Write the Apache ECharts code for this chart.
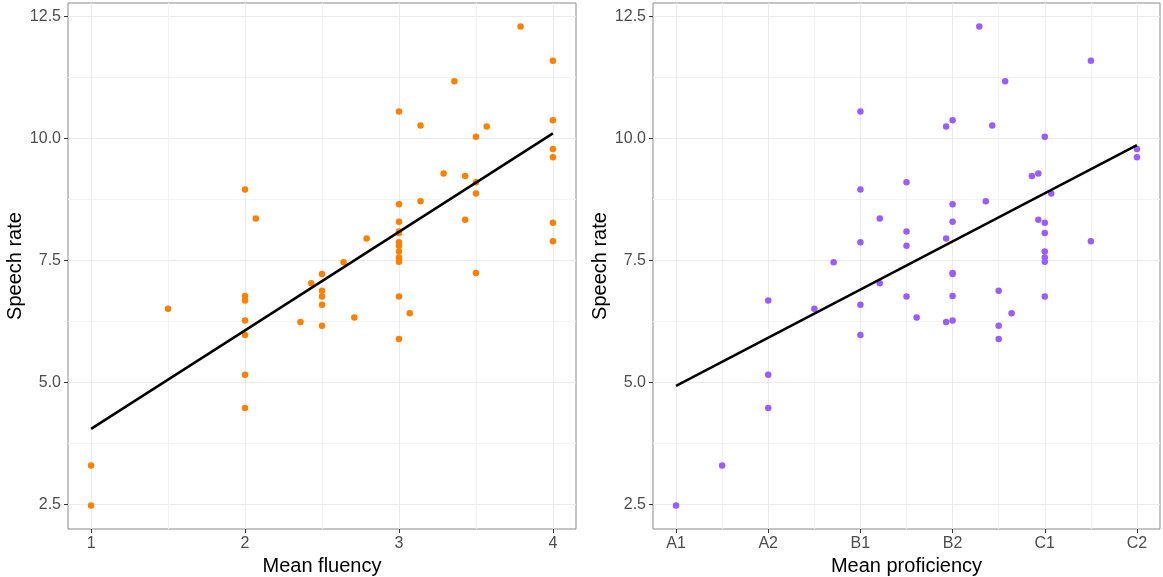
<!DOCTYPE html>
<html><head><meta charset="utf-8">
<script src="https://cdn.jsdelivr.net/npm/echarts@6/dist/echarts.min.js"></script>
<style>html,body{margin:0;padding:0;background:#fff}#c{width:1163px;height:577px}</style>
</head><body><div id="c"></div>
<script>
// ---- data ----
const speechRate = [12.29, 11.59, 11.17, 10.55, 10.37, 10.26, 10.24, 10.03, 9.78, 9.61,
  9.28, 9.23, 9.10, 8.95, 8.87, 8.71, 8.65, 8.36, 8.33, 8.29,
  8.27, 8.09, 8.06, 7.95, 7.89, 7.87, 7.80, 7.68, 7.56, 7.47,
  7.46, 7.24, 7.22, 7.03, 6.88, 6.77, 6.76, 6.76, 6.68, 6.59,
  6.51, 6.42, 6.33, 6.27, 6.24, 6.16, 5.97, 5.89, 5.16, 4.48,
  3.30, 2.48];
const meanFluency = [3.79, 4, 3.36, 3, 4, 3.14, 3.57, 3.5, 4, 4,
  3.29, 3.43, 3.5, 2, 3.5, 3.14, 3, 2.07, 3.43, 3,
  4, 3, 3, 2.79, 4, 3, 3, 3, 3, 3,
  2.64, 3.5, 2.5, 2.43, 2.5, 2, 2.5, 3, 2, 2.5,
  1.5, 3.07, 2.71, 2, 2.36, 2.5, 2, 3, 2, 2,
  1, 1];
const meanProficiency = [4.29, 5.5, 4.57, 3, 4, 4.43, 3.93, 5, 6, 6,
  4.93, 4.86, 3.5, 3, 5.07, 4.36, 4, 3.21, 4.93, 4,
  5, 3.5, 5, 3.93, 5.5, 3, 3.5, 5, 5, 5,
  2.71, 4, 4, 3.21, 4.5, 4, 3.5, 5, 2, 3,
  2.5, 4.64, 3.61, 4, 3.93, 4.5, 3, 4.5, 2, 2,
  1.5, 1];
const fitFluencyX = [1, 4];
const fitFluencyY = [4.05, 10.10];
const fitProficiencyX = [1, 6];
const fitProficiencyY = [4.93, 9.86];

const fluencyTicks = [1, 2, 3, 4];
const fluencyMinor = [1.5, 2.5, 3.5];
const proficiencyTicks = [1, 2, 3, 4, 5, 6];
const proficiencyLabels = ['A1', 'A2', 'B1', 'B2', 'C1', 'C2'];
const proficiencyMinor = [1.5, 2.5, 3.5, 4.5, 5.5];
const rateTicks = [2.5, 5, 7.5, 10, 12.5];
const rateMinor = [3.75, 6.25, 8.75, 11.25];

// ---- styling ----
const FONT = "'Liberation Sans', Arial, sans-serif";
const MAJOR = '#ebebeb', MINOR = '#f3f3f3';
const yMin = 2.0, yMax = 12.77;

function mainX(grid, min, max, ticks, name, fmt) {
  return {
    type: 'value', gridIndex: grid, min: min, max: max, position: 'bottom',
    axisLine: { show: false },
    axisTick: { show: true, length: 4, customValues: ticks, lineStyle: { color: '#333333', width: 1 } },
    axisLabel: { customValues: ticks, color: '#4d4d4d', fontSize: 16, fontFamily: FONT, margin: 7, formatter: fmt },
    splitLine: { show: true, lineStyle: { color: MAJOR, width: 1 } },
    name: name, nameLocation: 'middle', nameGap: 26,
    nameTextStyle: { fontSize: 20, color: '#000', fontFamily: FONT }
  };
}
function minorX(grid, min, max, ticks) {
  return {
    type: 'value', gridIndex: grid, min: min, max: max, position: 'top',
    axisLine: { show: false }, axisLabel: { show: false },
    axisTick: { show: false, customValues: ticks },
    splitLine: { show: true, lineStyle: { color: MINOR, width: 1 } }
  };
}
function mainY(grid) {
  return {
    type: 'value', gridIndex: grid, min: yMin, max: yMax, position: 'left',
    axisLine: { show: false },
    axisTick: { show: true, length: 4, customValues: rateTicks, lineStyle: { color: '#333333', width: 1 } },
    axisLabel: { customValues: rateTicks, color: '#4d4d4d', fontSize: 16, fontFamily: FONT, margin: 7,
      formatter: v => v.toFixed(1) },
    splitLine: { show: true, lineStyle: { color: MAJOR, width: 1 } },
    name: 'Speech rate', nameLocation: 'middle', nameGap: 43, nameRotate: 90,
    nameTextStyle: { fontSize: 20, color: '#000', fontFamily: FONT }
  };
}
function minorY(grid) {
  return {
    type: 'value', gridIndex: grid, min: yMin, max: yMax, position: 'right',
    axisLine: { show: false }, axisLabel: { show: false },
    axisTick: { show: false, customValues: rateMinor },
    splitLine: { show: true, lineStyle: { color: MINOR, width: 1 } }
  };
}

const gridStyle = { show: true, borderColor: '#8a8a8a', borderWidth: 1, backgroundColor: '#ffffff',
  containLabel: false, outerBoundsMode: 'none' };

const option = {
  animation: false,
  backgroundColor: '#ffffff',
  grid: [
    Object.assign({ left: 68, right: 587, top: 3, bottom: 48 }, gridStyle),
    Object.assign({ left: 653, right: 3, top: 3, bottom: 48 }, gridStyle)
  ],
  xAxis: [
    mainX(0, 0.85, 4.15, fluencyTicks, 'Mean fluency', v => String(v)),
    minorX(0, 0.85, 4.15, fluencyMinor),
    mainX(1, 0.75, 6.25, proficiencyTicks, 'Mean proficiency', v => proficiencyLabels[proficiencyTicks.indexOf(v)]),
    minorX(1, 0.75, 6.25, proficiencyMinor)
  ],
  yAxis: [mainY(0), minorY(0), mainY(1), minorY(1)],
  series: [
    {
      type: 'scatter', xAxisIndex: 0, yAxisIndex: 0, symbolSize: 6.5, z: 3,
      itemStyle: { color: '#ff7f00', opacity: 1 },
      data: meanFluency.map((x, i) => [x, speechRate[i]])
    },
    {
      type: 'line', xAxisIndex: 0, yAxisIndex: 0, symbol: 'none', z: 4,
      lineStyle: { color: '#000', width: 2.5 },
      data: fitFluencyX.map((x, i) => [x, fitFluencyY[i]])
    },
    {
      type: 'scatter', xAxisIndex: 2, yAxisIndex: 2, symbolSize: 6.5, z: 3,
      itemStyle: { color: '#9b5cff', opacity: 1 },
      data: meanProficiency.map((x, i) => [x, speechRate[i]])
    },
    {
      type: 'line', xAxisIndex: 2, yAxisIndex: 2, symbol: 'none', z: 4,
      lineStyle: { color: '#000', width: 2.5 },
      data: fitProficiencyX.map((x, i) => [x, fitProficiencyY[i]])
    }
  ]
};
const chart = echarts.init(document.getElementById('c'), null, { renderer: 'canvas' });
chart.setOption(option);
</script>
</body></html>
